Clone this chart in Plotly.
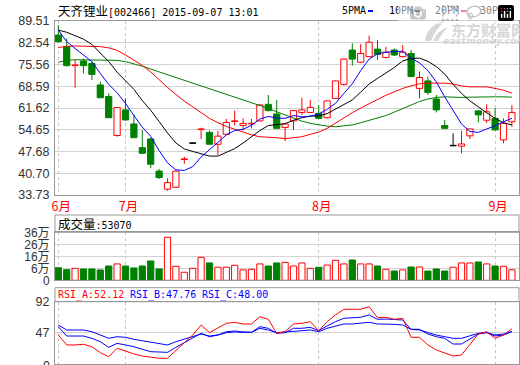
import plotly.graph_objects as go

W, H = 520, 365

# ---------------- data ----------------
month_ticks = [0, 8, 31, 52]
month_labels = ["6月", "7月", "8月", "9月"]

opens = [85.0, 81.3, 75.2, 76.7, 75.9, 69.0, 65.3, 52.8, 61.0, 56.5,
         48.9, 51.7, 41.4, 35.6, 36.2, 45.1, 50.3, 54.7, 53.8, 50.0,
         53.2, 57.3, 56.0, 56.5, 57.5, 62.8, 59.7, 55.4, 57.5, 60.2,
         60.2, 59.9, 58.5, 64.7, 69.2, 80.2, 76.3, 78.1, 80.5, 77.8,
         80.2, 78.1, 79.1, 67.9, 70.3, 64.5, 56.0, 49.5, 49.4, 52.7,
         60.7, 57.7, 58.3, 51.4, 57.2]
highs = [88.2, 83.9, 77.1, 77.5, 76.5, 70.1, 66.3, 61.8, 64.7, 59.6,
         54.6, 52.0, 42.1, 39.1, 41.6, 46.0, 50.5, 55.3, 54.4, 54.3,
         58.1, 60.8, 58.3, 58.1, 62.8, 65.8, 64.2, 56.6, 60.8, 64.9,
         64.2, 62.6, 64.0, 70.4, 77.5, 82.4, 82.1, 84.8, 83.4, 81.3,
         80.7, 81.8, 80.2, 73.3, 71.7, 65.8, 57.8, 53.5, 54.3, 55.1,
         60.8, 62.8, 61.6, 58.3, 62.6]
lows = [82.5, 74.9, 68.1, 72.7, 70.6, 64.9, 58.5, 52.4, 57.5, 52.1,
        47.0, 42.3, 38.9, 35.1, 36.0, 43.7, 50.1, 51.7, 50.0, 46.6,
        53.0, 56.0, 54.4, 55.1, 57.3, 60.5, 55.0, 51.0, 54.6, 59.4,
        60.0, 58.0, 58.3, 64.5, 68.8, 75.2, 76.0, 78.0, 77.0, 77.5,
        78.3, 77.8, 71.5, 64.7, 65.8, 60.2, 55.0, 49.4, 47.1, 51.7,
        57.0, 56.8, 54.4, 50.3, 55.6]
closes = [82.9, 75.2, 75.4, 75.2, 72.4, 64.9, 58.5, 61.8, 57.8, 52.1,
          47.1, 43.6, 39.3, 37.7, 41.4, 45.3, 50.3, 54.9, 50.0, 52.6,
          57.0, 57.5, 56.7, 56.7, 62.6, 60.8, 55.1, 56.5, 60.8, 61.0,
          61.8, 58.3, 63.9, 70.3, 77.3, 77.3, 79.1, 82.7, 78.8, 79.5,
          78.6, 79.5, 71.7, 71.4, 66.6, 61.0, 55.1, 49.5, 50.1, 54.9,
          59.4, 60.4, 54.6, 56.7, 60.2]

ma5 = [86.6, 82.9, 80.7, 78.6, 76.5, 72.7, 69.2, 66.5, 63.1, 59.2,
       55.5, 52.5, 48.0, 44.0, 41.8, 41.6, 42.8, 45.9, 48.4, 50.6,
       53.0, 54.4, 54.8, 56.1, 58.1, 58.9, 58.4, 58.3, 59.2, 58.8,
       59.0, 59.7, 61.2, 63.1, 66.3, 69.4, 73.6, 77.3, 79.0, 79.5,
       79.7, 79.8, 77.6, 76.1, 73.6, 70.0, 65.2, 60.7, 56.5, 54.1,
       53.8, 54.9, 55.9, 57.2, 58.3]
ma10 = [86.6, 85.9, 84.8, 83.7, 82.0, 79.1, 76.5, 73.1, 70.3, 67.6,
        64.0, 60.9, 57.3, 53.6, 50.4, 48.5, 47.7, 47.0, 46.2, 46.2,
        47.3, 48.6, 50.4, 52.3, 54.4, 56.0, 56.4, 56.6, 57.7, 58.5,
        59.0, 59.1, 59.8, 61.2, 62.6, 64.2, 66.7, 69.3, 71.1, 72.9,
        74.6, 76.7, 77.5, 77.6, 76.6, 74.9, 72.5, 69.2, 66.3, 63.9,
        61.9, 60.1, 58.3, 56.9, 56.2]
ma20 = [81.0, 81.4, 81.5, 81.5, 81.5, 81.3, 80.9, 80.1, 78.6, 77.0,
        75.3, 73.2, 70.6, 68.2, 66.0, 63.8, 62.0, 60.0, 58.3, 56.9,
        55.7, 54.8, 53.9, 53.0, 52.4, 52.3, 52.1, 51.8, 52.0, 52.4,
        53.2, 53.9, 55.1, 56.8, 58.5, 60.1, 61.6, 63.0, 64.4, 65.7,
        66.8, 67.9, 68.7, 69.4, 69.6, 69.6, 69.6, 69.3, 68.7, 68.4,
        68.3, 68.4, 67.9, 67.3, 66.4]
ma30 = [76.3, 76.9, 77.1, 77.1, 77.1, 77.1, 77.1, 76.9, 76.5, 75.8,
        75.0, 74.1, 73.2, 72.4, 71.5, 70.6, 69.7, 68.9, 68.0, 67.1,
        66.2, 65.3, 64.3, 63.4, 62.4, 61.5, 60.4, 59.4, 58.4, 57.4,
        56.7, 56.2, 55.8, 55.6, 55.8, 56.2, 56.9, 57.6, 58.3, 59.2,
        60.3, 61.4, 62.5, 63.7, 64.5, 65.0, 65.2, 65.0, 65.0, 65.1,
        65.2, 65.3, 65.2, 65.2, 65.1]

volume_wan = [7.0, 5.4, 6.5, 6.0, 6.0, 5.2, 8.4, 10.1, 8.4, 6.8,
              8.4, 12.5, 6.0, 31.9, 8.2, 3.3, 6.5, 15.5, 10.9, 7.4,
              7.4, 9.0, 5.2, 5.7, 10.1, 8.4, 10.9, 11.4, 8.4, 10.9,
              6.5, 7.4, 9.2, 13.1, 10.1, 13.3, 10.1, 10.1, 8.4, 5.7,
              4.3, 5.2, 7.6, 7.6, 4.3, 6.0, 4.3, 7.4, 10.9, 10.9,
              11.7, 10.1, 8.4, 8.2, 5.307]

rsi_a = [42.8, 28.1, 28.1, 29.1, 25.6, 16.7, 10.8, 23.2, 19.2, 14.8,
         11.8, 9.9, 8.4, 8.4, 20.7, 31.5, 42.8, 57.6, 46.2, 52.7,
         60.1, 61.6, 59.1, 59.1, 69.9, 66.0, 45.3, 47.7, 59.1, 60.1,
         62.5, 49.2, 62.5, 72.4, 80.8, 80.8, 80.8, 84.6, 68.4, 69.0,
         66.0, 67.5, 39.4, 39.4, 28.1, 20.7, 15.8, 11.8, 13.3, 29.5,
         44.3, 47.7, 37.9, 42.8, 52.12]
rsi_b = [55.1, 41.3, 41.3, 41.3, 37.9, 32.9, 24.6, 30.5, 28.1, 25.6,
         21.7, 18.2, 17.7, 17.2, 24.6, 31.5, 37.9, 45.3, 40.3, 42.8,
         47.7, 48.7, 47.3, 46.8, 55.1, 52.7, 45.3, 46.2, 52.7, 52.7,
         54.2, 49.2, 56.1, 62.5, 67.5, 68.4, 69.0, 72.4, 66.0, 66.4,
         66.0, 65.0, 51.2, 51.2, 44.3, 40.3, 37.9, 29.5, 29.5, 36.4,
         44.3, 46.2, 41.3, 42.8, 47.76]
rsi_c = [57.6, 50.2, 50.2, 50.2, 47.7, 42.8, 37.9, 40.3, 39.4, 36.4,
         34.5, 32.5, 30.5, 28.1, 32.9, 36.4, 40.3, 44.3, 41.3, 42.8,
         46.2, 47.3, 46.8, 46.8, 52.7, 50.2, 46.2, 47.3, 49.2, 49.2,
         50.2, 47.7, 52.7, 56.1, 59.1, 59.1, 60.1, 61.6, 59.1, 59.1,
         58.6, 57.6, 51.2, 50.2, 46.2, 42.8, 40.3, 37.9, 37.9, 41.3,
         45.3, 46.8, 42.8, 44.3, 48.00]

price_ticks = [33.73, 40.70, 47.68, 54.65, 61.62, 68.59, 75.56, 82.54, 89.51]
vol_ticks = [6, 16, 26, 36]
rsi_ticks = [0, 47, 92]

title_name = "天齐锂业"
title_rest = "[002466] 2015-09-07 13:01"
vol_name = "成交量"
vol_value = ":53070"
rsi_labels = [("RSI_A:52.12", "#FF0000"), ("RSI_B:47.76", "#0000FF"), ("RSI_C:48.00", "#0000FF")]
ma_names = ["5PMA", "10PM", "20PM", "30PM"]

# ---------------- styling ----------------
RED, GREEN, BLUE, BLACK = "#FF0000", "#008000", "#0000FF", "#000000"
GRID = "#d2d2d2"
BORDER = "#999999"
VGRID = "#c4c4c4"
WM = "#d6d6d6"
BODY_W = 0.74
MIN_BODY = 0.15
VOL_FLOOR = -3.3
MONO = "DejaVu Sans Mono, Noto Sans CJK SC"
CJK = "Noto Sans CJK SC"
TICKF = dict(family="Liberation Sans, Noto Sans CJK SC", size=12.5, color="#333333")


def px(x):
    return x / W


def py(y):
    return 1 - y / H


X0, X1 = 55, 519
XRANGE = [-0.393, 54.845]

fig = go.Figure()
idx = list(range(len(closes)))
up = [i for i in idx if closes[i] > opens[i]]
dn = [i for i in idx if closes[i] < opens[i]]
dj = [i for i in idx if closes[i] == opens[i]]


def add_candles(sel, fill, edge):
    base = [min(opens[i], closes[i]) for i in sel]
    hgt = [max(abs(closes[i] - opens[i]), MIN_BODY) for i in sel]
    wx, wy = [], []
    for i in sel:
        top = max(opens[i], closes[i])
        bot = min(opens[i], closes[i])
        wx += [i, i, None, i, i, None]
        wy += [highs[i], top, None, bot, lows[i], None]
    fig.add_trace(go.Scatter(x=wx, y=wy, mode="lines", line=dict(color=edge, width=1),
                             xaxis="x", yaxis="y", hoverinfo="skip"))
    fig.add_trace(go.Bar(x=sel, y=hgt, base=base, width=BODY_W,
                         marker=dict(color=fill, line=dict(color=edge, width=1)),
                         xaxis="x", yaxis="y"))


add_candles(up, "white", RED)
add_candles(dn, GREEN, GREEN)
add_candles(dj, BLACK, BLACK)

for series, col in [(ma30, GREEN), (ma20, RED), (ma10, BLACK), (ma5, BLUE)]:
    fig.add_trace(go.Scatter(x=idx, y=series, mode="lines", line=dict(color=col, width=1),
                             xaxis="x", yaxis="y"))

# volume
vol_up = [i for i in idx if closes[i] >= opens[i]]
vol_dn = [i for i in idx if closes[i] < opens[i]]
fig.add_trace(go.Bar(x=vol_up, y=[volume_wan[i] - VOL_FLOOR for i in vol_up], base=VOL_FLOOR,
                     width=BODY_W, marker=dict(color="white", line=dict(color=RED, width=1)),
                     xaxis="x2", yaxis="y2"))
fig.add_trace(go.Bar(x=vol_dn, y=[volume_wan[i] - VOL_FLOOR for i in vol_dn], base=VOL_FLOOR,
                     width=BODY_W, marker=dict(color=GREEN, line=dict(color=GREEN, width=1)),
                     xaxis="x2", yaxis="y2"))

# RSI
for series, col in [(rsi_c, BLUE), (rsi_b, BLUE), (rsi_a, RED)]:
    fig.add_trace(go.Scatter(x=idx, y=series, mode="lines", line=dict(color=col, width=1),
                             xaxis="x3", yaxis="y3"))

dom_x = [px(X0), px(X1)]
common_x = dict(domain=dom_x, range=XRANGE, tickvals=month_ticks, showgrid=True,
                gridcolor=VGRID, griddash="3px,3px", gridwidth=1, zeroline=False,
                showline=True, mirror=True, linecolor=BORDER, linewidth=1, ticks="",
                automargin=False, fixedrange=True)
common_y = dict(showgrid=True, gridcolor=GRID, gridwidth=1, zeroline=False, showline=True,
                mirror=True, linecolor=BORDER, linewidth=1, ticks="", tickfont=TICKF,
                ticklabelstandoff=2, automargin=False, fixedrange=True)

fig.update_layout(
    template="none",
    width=W, height=H, margin=dict(l=0, r=0, t=0, b=0, pad=0, autoexpand=False),
    paper_bgcolor="white", plot_bgcolor="white", showlegend=False,
    barmode="overlay", hovermode=False,
    xaxis=dict(common_x, anchor="y", ticktext=month_labels, showticklabels=True,
               tickfont=dict(family=CJK, size=12.5, color=RED), ticklabelshift=3),
    yaxis=dict(common_y, domain=[py(195), py(21)], range=[price_ticks[0], price_ticks[-1]],
               tickvals=price_ticks, ticktext=["%.2f" % v for v in price_ticks], anchor="x"),
    xaxis2=dict(common_x, anchor="y2", showticklabels=False),
    yaxis2=dict(common_y, domain=[py(280.3), py(232.3)], range=[VOL_FLOOR, vol_ticks[-1]],
                tickvals=[VOL_FLOOR] + vol_ticks,
                ticktext=["0"] + ["%d万" % v for v in vol_ticks], anchor="x2",
                tickfont=dict(TICKF, size=12)),
    xaxis3=dict(common_x, anchor="y3", showticklabels=False),
    yaxis3=dict(common_y, domain=[py(364), py(301.7)], range=[rsi_ticks[0], rsi_ticks[-1]],
                tickvals=rsi_ticks[1:], ticktext=[str(v) for v in rsi_ticks[1:]], anchor="x3"),
)

shapes = [
    dict(type="rect", xref="paper", yref="paper", x0=px(X0), x1=px(X1), y0=py(232.3), y1=py(215),
         line=dict(color=BORDER, width=1)),
    dict(type="rect", xref="paper", yref="paper", x0=px(X0), x1=px(X1), y0=py(301.7), y1=py(287.7),
         line=dict(color=BORDER, width=1)),
]


def pix_path(cmds):
    out = []
    for c in cmds:
        if isinstance(c, str):
            out.append(c)
        else:
            out.append("%.5f,%.5f" % (px(c[0]), py(c[1])))
    return " ".join(out)


# watermark logo (feather-like swoosh)
shapes.append(dict(type="path", xref="paper", yref="paper", layer="below",
                   path=pix_path(["M", (425, 41), "Q", (427, 25), (447, 19), "Q", (436, 28), (431, 41), "Z"]),
                   fillcolor=WM, line=dict(width=0)))
shapes.append(dict(type="path", xref="paper", yref="paper", layer="below",
                   path=pix_path(["M", (433, 41), "Q", (437, 31), (448, 27), "Q", (441, 34), (438, 41), "Z"]),
                   fillcolor=WM, line=dict(width=0)))

# legend dashes
leg_x = [340, 387, 433, 478]
leg_cols = [BLUE, BLACK, RED, GREEN]
annotations = []
for name, lx, col in zip(ma_names, leg_x, leg_cols):
    annotations.append(dict(text=name, x=px(lx), y=py(11), xref="paper", yref="paper",
                            xanchor="left", yanchor="middle", showarrow=False,
                            font=dict(family=MONO, size=10, color=BLACK)))
    shapes.append(dict(type="line", xref="paper", yref="paper", x0=px(lx + 28), x1=px(lx + 33),
                       y0=py(11), y1=py(11), line=dict(color=col, width=2)))

annotations.append(dict(
    text='<span style="font-family:Noto Sans CJK SC;font-size:12.5px">' + title_name + "</span>" + title_rest,
    x=px(56), y=py(11), xref="paper", yref="paper", xanchor="left", yanchor="middle",
    showarrow=False, font=dict(family=MONO, size=10, color=BLACK)))
annotations.append(dict(
    text='<span style="font-family:Noto Sans CJK SC;font-size:12.5px">' + vol_name + "</span>" + vol_value,
    x=px(56), y=py(223.5), xref="paper", yref="paper", xanchor="left", yanchor="middle",
    showarrow=False, font=dict(family=MONO, size=10, color=BLACK)))
for (txt, col), lx in zip(rsi_labels, [56, 128, 200]):
    annotations.append(dict(text=txt, x=px(lx), y=py(294.5), xref="paper", yref="paper",
                            xanchor="left", yanchor="middle", showarrow=False,
                            font=dict(family=MONO, size=10, color=col)))
# bottom "0" label of the RSI panel (sits on the lower edge, partly cut as in the reference)
annotations.append(dict(text=str(rsi_ticks[0]), x=px(52), y=py(366), xref="paper", yref="paper",
                        xanchor="right", yanchor="middle", showarrow=False,
                        font=TICKF))
# watermark text
annotations.append(dict(text="<b>东方财富网</b>", x=px(449), y=py(29), xref="paper", yref="paper",
                        xanchor="left", yanchor="middle", showarrow=False,
                        font=dict(family=CJK, size=15, color=WM)))
annotations.append(dict(text="<b><i>eastmoney.com</i></b>", x=px(441), y=py(41), xref="paper",
                        yref="paper", xanchor="left", yanchor="middle", showarrow=False,
                        font=dict(family="DejaVu Sans", size=9.5, color=WM)))

fig.update_layout(shapes=shapes, annotations=annotations)
fig.write_html("out.html", post_script="document.body.style.margin='0px';")
